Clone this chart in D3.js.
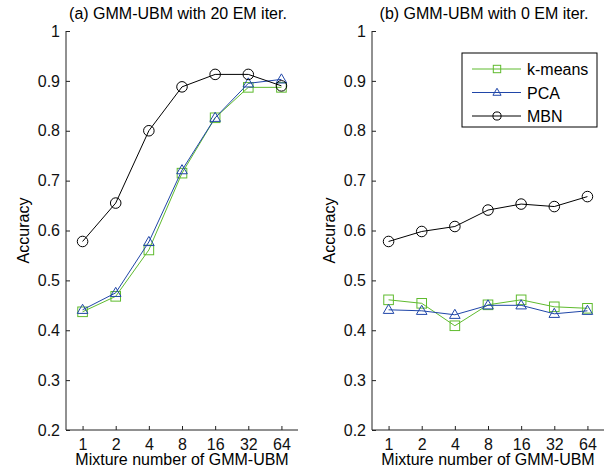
<html>
<head>
<script src="https://cdn.jsdelivr.net/npm/d3@7"></script>
<style>
  body { margin: 0; background: #fff; }
  text { font-family: "Liberation Sans", Arial, sans-serif; }
</style>
</head>
<body>
<script>
// values
var mixtures = ["1", "2", "4", "8", "16", "32", "64"];
var yTicks = [0.2, 0.3, 0.4, 0.5, 0.6, 0.7, 0.8, 0.9, 1];
var titles = ["(a) GMM-UBM with 20 EM iter.", "(b) GMM-UBM with 0 EM iter."];

var kmeansA = [0.437, 0.468, 0.561, 0.715, 0.826, 0.887, 0.887];
var pcaA    = [0.441, 0.475, 0.577, 0.721, 0.826, 0.895, 0.903];
var mbnA    = [0.578, 0.655, 0.800, 0.888, 0.913, 0.913, 0.890];

var kmeansB = [0.461, 0.454, 0.409, 0.451, 0.461, 0.447, 0.444];
var pcaB    = [0.441, 0.439, 0.431, 0.450, 0.450, 0.433, 0.439];
var mbnB    = [0.578, 0.598, 0.608, 0.641, 0.653, 0.648, 0.668];

var seriesNames = ["k-means", "PCA", "MBN"];
var colors = { "k-means": "#5fbb2e", "PCA": "#2046a8", "MBN": "#000" };
var shapes = { "k-means": "square", "PCA": "triangle", "MBN": "circle" };

var svg = d3.select("body").append("svg")
    .attr("width", 612).attr("height", 471);

var panels = [
  { left: 66, right: 298, title: titles[0], data: [kmeansA, pcaA, mbnA] },
  { left: 372, right: 604, title: titles[1], data: [kmeansB, pcaB, mbnB], legend: true }
];
var plotTop = 31, plotBottom = 430;

function marker(sel, name, s) {
  var c = colors[name];
  if (shapes[name] == "square") {
    sel.append("rect").attr("x", -s).attr("y", -s).attr("width", 2 * s).attr("height", 2 * s)
      .attr("fill", "none").attr("stroke", c);
  } else if (shapes[name] == "triangle") {
    sel.append("path").attr("d", "M0," + (-s * 1.15) + "L" + (s * 1.1) + "," + (s * 0.75) + "L" + (-s * 1.1) + "," + (s * 0.75) + "Z")
      .attr("fill", "none").attr("stroke", c);
  } else {
    sel.append("circle").attr("r", s * 1.1).attr("fill", "none").attr("stroke", c);
  }
}

panels.forEach(function(p) {
  var x = d3.scalePoint().domain(mixtures).range([p.left, p.right]).padding(0.5);
  var y = d3.scaleLinear().domain([0.2, 1]).range([plotBottom, plotTop]);
  var g = svg.append("g");

  var xAxis = g.append("g").attr("transform", "translate(0," + plotBottom + ")")
    .call(d3.axisBottom(x).tickSizeInner(-4).tickSizeOuter(0).tickPadding(6));
  var yAxis = g.append("g").attr("transform", "translate(" + p.left + ",0)")
    .call(d3.axisLeft(y).tickValues(yTicks).tickFormat(d3.format("")).tickSizeInner(-4).tickSizeOuter(0).tickPadding(6));
  [xAxis, yAxis].forEach(function(a) {
    a.selectAll("path").attr("stroke", "#222");
    a.selectAll("line").attr("stroke", "#222");
    a.selectAll("text").style("font-size", "16px").attr("fill", "#111")
      .style("font-family", '"Liberation Sans", Arial, sans-serif');
  });
  xAxis.selectAll("text").attr("dy", "0.85em");
  yAxis.select(".domain").attr("d", "M0," + plotTop + "V" + plotBottom);
  xAxis.select(".domain").attr("d", "M" + p.left + ",0H" + p.right);

  g.append("text").attr("x", (p.left + p.right) / 2 - 4).attr("y", 19)
    .attr("text-anchor", "middle").style("font-size", "16px").text(p.title);
  g.append("text").attr("x", (p.left + p.right) / 2).attr("y", 465)
    .attr("text-anchor", "middle").style("font-size", "16px").text("Mixture number of GMM-UBM");
  g.append("text").attr("transform", "translate(" + (p.left - 37) + "," + ((plotTop + plotBottom) / 2) + ") rotate(-90)")
    .attr("text-anchor", "middle").style("font-size", "16px").text("Accuracy");

  var line = d3.line().x(function(d, i) { return x(mixtures[i]); }).y(function(d) { return y(d); });

  p.data.forEach(function(vals, k) {
    var name = seriesNames[k];
    g.append("path").datum(vals).attr("d", line)
      .attr("fill", "none").attr("stroke", colors[name]).attr("stroke-width", 1);
    vals.forEach(function(v, i) {
      var m = g.append("g").attr("transform", "translate(" + x(mixtures[i]) + "," + y(v) + ")");
      marker(m, name, 4.8);
    });
  });

  if (p.legend) {
    var lg = g.append("g").attr("transform", "translate(462,53)");
    lg.append("rect").attr("width", 135).attr("height", 74)
      .attr("fill", "#fff").attr("stroke", "#000").attr("stroke-width", 1);
    seriesNames.forEach(function(name, k) {
      var row = lg.append("g").attr("transform", "translate(0," + (16 + k * 23.5) + ")");
      row.append("line").attr("x1", 10).attr("x2", 59).attr("stroke", colors[name]);
      var m = row.append("g").attr("transform", "translate(35,0)");
      marker(m, name, 3.7);
      row.append("text").attr("x", 65).attr("y", 6).style("font-size", "16px").text(name);
    });
  }
});
</script>
</body>
</html>
